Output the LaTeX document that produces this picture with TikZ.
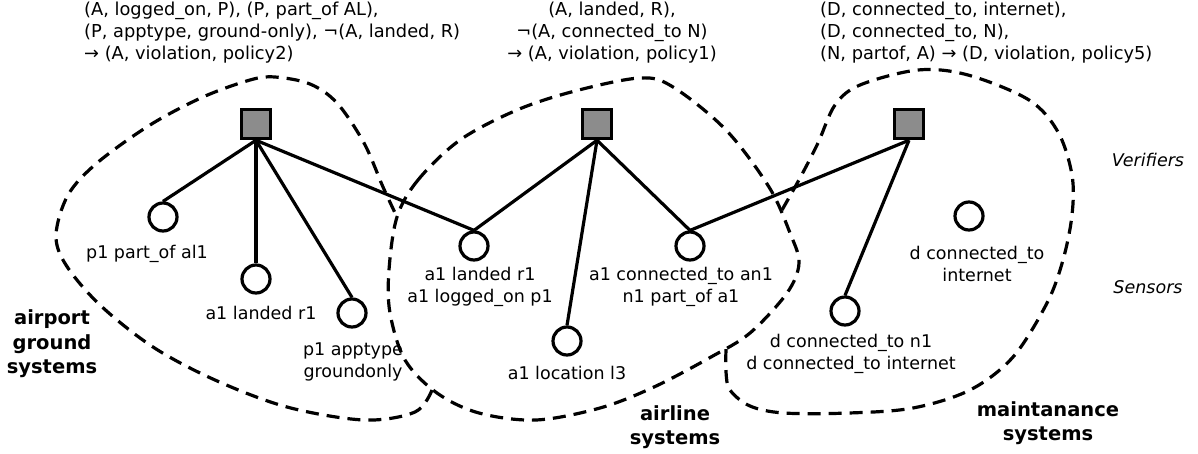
\documentclass[tikz,border=0pt]{standalone}
\usepackage{fontspec}
\setmainfont{DejaVu Sans}
\begin{document}
\begin{tikzpicture}[x=1pt,y=-1pt,
  every node/.style={font=\fontsize{17.5}{22}\selectfont},
  verifier/.style={draw, line width=3.5pt, fill=black!45, minimum size=29pt, inner sep=0pt},
  sensor/.style={draw, circle, line width=3.2pt, minimum size=28pt, inner sep=0pt},
  link/.style={line width=3.2pt},
  blob/.style={line width=3.2pt, dash pattern=on 13pt off 8pt},
  lbl/.style={align=center, inner sep=0pt},
  rule/.style={inner sep=0pt, font=\fontsize{17.8}{22}\selectfont},
  grp/.style={align=center, inner sep=0pt, font=\fontsize{19.5}{24.5}\selectfont\bfseries},
  layer/.style={inner sep=0pt, font=\fontsize{17.5}{22}\selectfont\itshape}]
\useasboundingbox (0,0) rectangle (1198,453);

% group outlines
\draw[blob] plot[smooth, tension=0.55] coordinates {(432,390) (415,412) (364,420) (287,407) (215,380) (153,347) (100,305) (66,265) (56,235) (68,195) (97,163) (150,125) (203,97) (250,80) (275,77) (310,84) (337,103) (364,143) (383,187) (397,217)};
\draw[blob] plot[smooth cycle, tension=0.55] coordinates {(397,217) (418,180) (460,140) (517,110) (575,91) (640,78) (673,87) (726,130) (769,187) (790,233) (799,263) (787,293) (750,333) (711,357) (654,387) (600,408) (536,420) (479,413) (437,393) (405,360) (390,313) (389,270)};
\draw[blob] plot[smooth, tension=0.55] coordinates {(782,210) (800,178) (818,143) (835,105) (860,85) (918,70) (968,75) (1029,100) (1058,132) (1072,175) (1072,215) (1063,260) (1047,303) (1013,357) (970,390) (913,408) (849,413) (784,413) (750,406) (730,390) (726,372) (726,349)};

% verifiers
\node[verifier] (v1) at (256,124) {};
\node[verifier] (v2) at (597,124) {};
\node[verifier] (v3) at (909,124) {};

% sensors
\node[sensor] (s1) at (163,217) {};
\node[sensor] (s2) at (256,279) {};
\node[sensor] (s3) at (352,313) {};
\node[sensor] (s4) at (474,246) {};
\node[sensor] (s5) at (567,341) {};
\node[sensor] (s6) at (690,246) {};
\node[sensor] (s7) at (845,311) {};
\node[sensor] (s8) at (969,216) {};

% links
\draw[link] (v1.south) -- (s1.north);
\draw[link] (v1.south) -- (s2.north);
\draw[link] (v1.south) -- (s3.north);
\draw[link] (v1.south) -- (s4.north);
\draw[link] (v2.south) -- (s4.north);
\draw[link] (v2.south) -- (s5.north);
\draw[link] (v2.south) -- (s6.north);
\draw[link] (v3.south) -- (s6.north);
\draw[link] (v3.south) -- (s7.north);

% sensor facts
\node[lbl] (t1) at (147,254) {p1 part\_of al1};
\node[lbl] (t2) at (261,313) {a1 landed r1};
\node[lbl] (t3) at (353,362) {p1 apptype\\groundonly};
\node[lbl] (t4) at (480,287) {a1 landed r1\\a1 logged\_on p1};
\node[lbl] (t5) at (567,373) {a1 location l3};
\node[lbl] (t6) at (681,287) {a1 connected\_to an1\\n1 part\_of a1};
\node[lbl] (t7) at (851,354) {d connected\_to n1\\d connected\_to internet};
\node[lbl] (t8) at (977,264) {d connected\_to\\internet};

% policies
\node[rule, align=left, anchor=west] (f1) at (84,33) {(A, logged\_on, P), (P, part\_of AL),\\(P, apptype, ground-only), ¬(A, landed, R)\\→ (A, violation, policy2)};
\node[rule, align=center] (f2) at (612,33) {(A, landed, R),\\¬(A, connected\_to N)\\→ (A, violation, policy1)};
\node[rule, align=left, anchor=west] (f3) at (820,33) {(D, connected\_to, internet),\\(D, connected\_to, N),\\(N, partof, A) → (D, violation, policy5)};

% groups
\node[grp] (g1) at (52,344) {airport\\ground\\systems};
\node[grp] (g2) at (675,427) {airline\\systems};
\node[grp] (g3) at (1048,423) {maintanance\\systems};

% layers
\node[layer] (l1) at (1148,160) {Verifiers};
\node[layer] (l2) at (1148,287) {Sensors};
\end{tikzpicture}
\end{document}
